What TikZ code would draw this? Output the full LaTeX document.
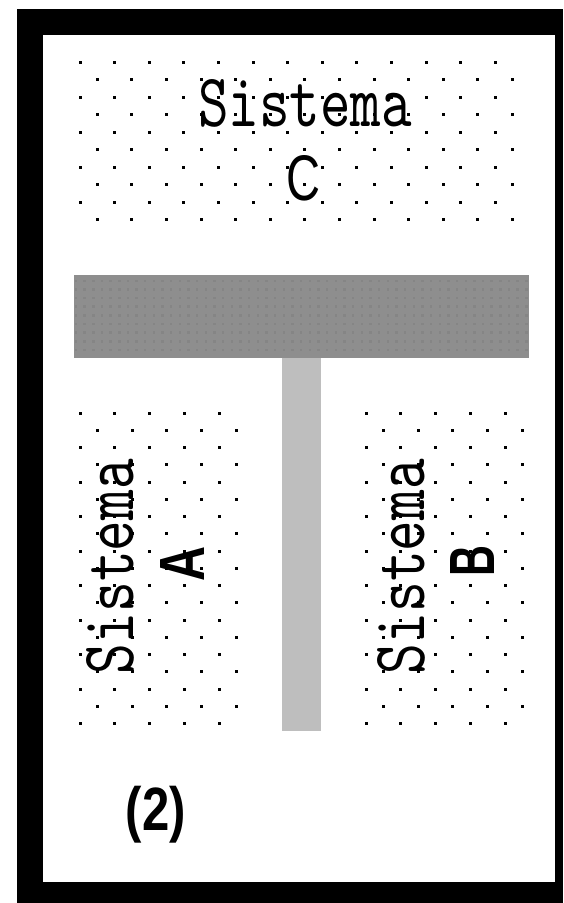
\documentclass[tikz,border=0pt]{standalone}
\usepackage{fontspec}
\usepackage{graphicx}
\newfontfamily\figsans{Liberation Sans}
\definecolor{barGray}{RGB}{142,142,142}
\definecolor{barDot}{RGB}{133,133,133}
\definecolor{stemGray}{RGB}{190,190,190}

\begin{document}
\begin{tikzpicture}[x=1pt, y=-1pt,
  lbl/.style={inner sep=0pt, outer sep=0pt, anchor=center},
  dot/.style={fill=black},
  bardot/.style={fill=barDot}]

\useasboundingbox (0,0) rectangle (563,903);

%% ---- FRAME ----
\fill[black] (17,9) rectangle (563,903);
\fill[white] (43,35) rectangle (555,882);

%% ---- DOT FIELDS ----
% system C (top)
\foreach \j in {0,...,9}{
  \pgfmathsetmacro\xo{mod(\j,2)*17.3}
  \foreach \i in {0,...,12}
    \fill[dot] (80+\xo+34.6*\i, 62+17.5*\j) +(-1.5,-1.5) rectangle +(1.5,1.5);
}
% system A (left)
\foreach \j in {0,...,18}{
  \pgfmathsetmacro\xo{mod(\j,2)*17.3}
  \foreach \i in {0,...,4}
    \fill[dot] (80+\xo+34.75*\i, 413+17.25*\j) +(-1.5,-1.5) rectangle +(1.5,1.5);
}
% system B (right)
\foreach \j in {0,...,18}{
  \pgfmathsetmacro\xo{mod(\j,2)*17.3}
  \foreach \i in {0,...,4}
    \fill[dot] (366+\xo+34.75*\i, 413+17.25*\j) +(-1.5,-1.5) rectangle +(1.5,1.5);
}

%% ---- WALL ----
\fill[barGray] (74,275) rectangle (529,358);
\foreach \j in {0,...,8}
  \foreach \i in {0,...,52}
    \fill[bardot] (76+8.66*\i, 280.7+8.66*\j) +(-1.2,-1.2) rectangle +(1.2,1.2);
\fill[stemGray] (282,358) rectangle (321,731);

%% ---- LABELS ----
\node[lbl] (sisC)  at (305,103)   {\resizebox{214pt}{47pt}{\ttfamily Sistema}};
\node[lbl] (letC)  at (304,178.5) {\resizebox{34pt}{45pt}{\figsans C}};
\node[lbl, rotate=90] (sisA) at (110.5,566.5) {\resizebox{215pt}{47pt}{\ttfamily Sistema}};
\node[lbl, rotate=90] (letA) at (182,563.5)   {\resizebox{35pt}{44pt}{\figsans\bfseries A}};
\node[lbl, rotate=90] (sisB) at (401,566.5)   {\resizebox{215pt}{47pt}{\ttfamily Sistema}};
\node[lbl, rotate=90] (letB) at (472.5,561)   {\resizebox{31pt}{44pt}{\figsans\bfseries B}};
\node[lbl] (num)   at (156,814.5) {\resizebox*{60pt}{57pt}{\figsans\bfseries (2)}};
\end{tikzpicture}
\end{document}
